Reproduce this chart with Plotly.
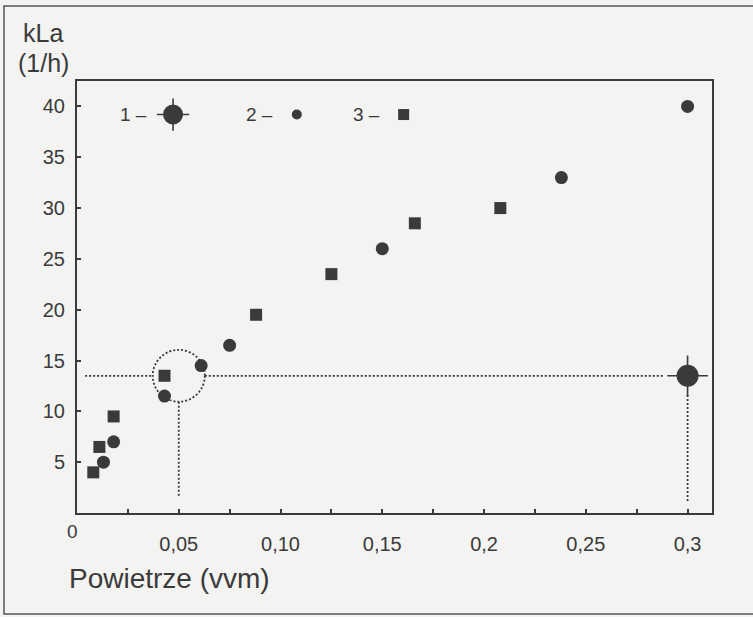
import plotly.graph_objects as go

# ---- data ----
# series 2 (circles)
x2 = [0.013, 0.018, 0.043, 0.061, 0.075, 0.150, 0.238, 0.300]
y2 = [5.0, 7.0, 11.5, 14.5, 16.5, 26.0, 33.0, 40.0]
# series 3 (squares)
x3 = [0.008, 0.011, 0.018, 0.043, 0.088, 0.125, 0.166, 0.208]
y3 = [4.0, 6.5, 9.5, 13.5, 19.5, 23.5, 28.5, 30.0]
# series 1 (large marked point)
x1 = [0.300]
y1 = [13.5]
# reference (dotted) construction
target_kla = 13.5
x_small = 0.05
x_big = 0.30

x_tickvals = [0.05, 0.10, 0.15, 0.20, 0.25, 0.30]
x_ticktext = ["0,05", "0,10", "0,15", "0,2", "0,25", "0,3"]
y_tickvals = [5, 10, 15, 20, 25, 30, 35, 40]
legend_labels = ["1 \u2013", "2 \u2013", "3 \u2013"]

INK = "#3a3a3a"
BG = "#f3f3f1"
FONT = "Liberation Sans, Arial, sans-serif"

W, H = 753, 617
L, R, T, B = 77, 41, 81, 104
pw, ph = W - L - R, H - T - B


def px(xp):
    return (xp - L) / pw


def py(yp):
    return (H - B - yp) / ph


fig = go.Figure()

fig.add_trace(go.Scatter(x=x2, y=y2, mode="markers",
                         marker=dict(symbol="circle", size=13, color=INK, line=dict(width=0)),
                         showlegend=False))
fig.add_trace(go.Scatter(x=x3, y=y3, mode="markers",
                         marker=dict(symbol="square", size=12, color=INK, line=dict(width=0)),
                         showlegend=False))
# big marker: cross + disc
fig.add_trace(go.Scatter(x=x1, y=y1, mode="markers",
                         marker=dict(symbol="cross-thin", size=29, color=INK,
                                     line=dict(width=1.6, color=INK)),
                         showlegend=False))
fig.add_trace(go.Scatter(x=x1, y=y1, mode="markers",
                         marker=dict(symbol="circle", size=22, color=INK, line=dict(width=0)),
                         showlegend=False))

# in-plot legend row
leg_y = 39.2
leg_mx = [0.0472, 0.108, 0.1605]
leg_tx = [0.0352, 0.0975, 0.150]
fig.add_trace(go.Scatter(x=[leg_mx[0]], y=[leg_y], mode="markers",
                         marker=dict(symbol="cross-thin", size=23, color=INK,
                                     line=dict(width=1.6, color=INK)), showlegend=False))
fig.add_trace(go.Scatter(x=[leg_mx[0]], y=[leg_y], mode="markers",
                         marker=dict(symbol="circle", size=20, color=INK), showlegend=False))
fig.add_trace(go.Scatter(x=[leg_mx[1]], y=[leg_y], mode="markers",
                         marker=dict(symbol="circle", size=10, color=INK), showlegend=False))
fig.add_trace(go.Scatter(x=[leg_mx[2]], y=[leg_y], mode="markers",
                         marker=dict(symbol="square", size=11, color=INK), showlegend=False))
for tx, lab in zip(leg_tx, legend_labels):
    fig.add_annotation(x=tx, y=leg_y, xref="x", yref="y", text=lab, showarrow=False,
                       xanchor="right", yanchor="middle",
                       font=dict(family=FONT, size=19, color=INK))

# dotted construction lines
dot = dict(color=INK, width=1.8, dash="2px,2px")
rx, ry = 0.0128, 2.55  # dotted circle radii (data units)
fig.add_shape(type="circle", xref="x", yref="y",
              x0=x_small - rx, x1=x_small + rx, y0=target_kla - ry, y1=target_kla + ry, line=dot)
fig.add_shape(type="line", xref="x", yref="y", x0=0.004, x1=x_small - rx,
              y0=target_kla, y1=target_kla, line=dot)
fig.add_shape(type="line", xref="x", yref="y", x0=x_small + rx, x1=0.288,
              y0=target_kla, y1=target_kla, line=dot)
fig.add_shape(type="line", xref="x", yref="y", x0=x_small, x1=x_small,
              y0=target_kla - ry, y1=1.6, line=dot)
fig.add_shape(type="line", xref="x", yref="y", x0=x_big, x1=x_big,
              y0=11.6, y1=1.0, line=dot)

# outer scan border
fig.add_shape(type="path", xref="paper", yref="paper",
              path=(f"M {px(770)},{py(6)} L {px(4)},{py(6)} "
                    f"L {px(4)},{py(614)} L {px(770)},{py(614)}"),
              line=dict(color="#555555", width=1.5))

# axis titles and the lone zero
fig.add_annotation(x=px(43), y=py(33), xref="paper", yref="paper", text="kLa",
                   showarrow=False, xanchor="center", yanchor="middle",
                   font=dict(family=FONT, size=25, color=INK))
fig.add_annotation(x=px(43), y=py(63), xref="paper", yref="paper", text="(1/h)",
                   showarrow=False, xanchor="center", yanchor="middle",
                   font=dict(family=FONT, size=25, color=INK))
fig.add_annotation(x=px(67), y=py(578), xref="paper", yref="paper", text="Powietrze (vvm)",
                   showarrow=False, xanchor="left", yanchor="middle",
                   font=dict(family=FONT, size=28, color=INK))
fig.add_annotation(x=px(72), y=py(531), xref="paper", yref="paper", text="0",
                   showarrow=False, xanchor="center", yanchor="middle",
                   font=dict(family=FONT, size=19, color=INK))

fig.update_layout(
    width=W, height=H,
    margin=dict(l=L, r=R, t=T, b=B, pad=0),
    paper_bgcolor=BG, plot_bgcolor=BG,
    font=dict(family=FONT, color=INK),
    showlegend=False,
    xaxis=dict(range=[0, 0.312], showgrid=False, zeroline=False,
               showline=True, linecolor=INK, linewidth=2, mirror=True,
               tickmode="array", tickvals=x_tickvals, ticktext=x_ticktext,
               ticks="inside", ticklen=4, tickwidth=1.5, tickcolor=INK,
               minor=dict(tick0=0, dtick=0.025, ticks="inside", ticklen=4,
                          tickwidth=1.5, tickcolor=INK, showgrid=False),
               tickfont=dict(family=FONT, size=20, color=INK),
               ticklabelstandoff=12),
    yaxis=dict(range=[0, 42.5], showgrid=False, zeroline=False,
               showline=True, linecolor=INK, linewidth=2, mirror=True,
               tickmode="array", tickvals=y_tickvals,
               ticks="inside", ticklen=4, tickwidth=1.5, tickcolor=INK,
               tickfont=dict(family=FONT, size=20, color=INK),
               ticklabelstandoff=6),
)

fig.write_html("out.html",
               config={"displayModeBar": False},
               post_script="document.body.style.margin='0';document.body.style.background='%s';" % BG)
